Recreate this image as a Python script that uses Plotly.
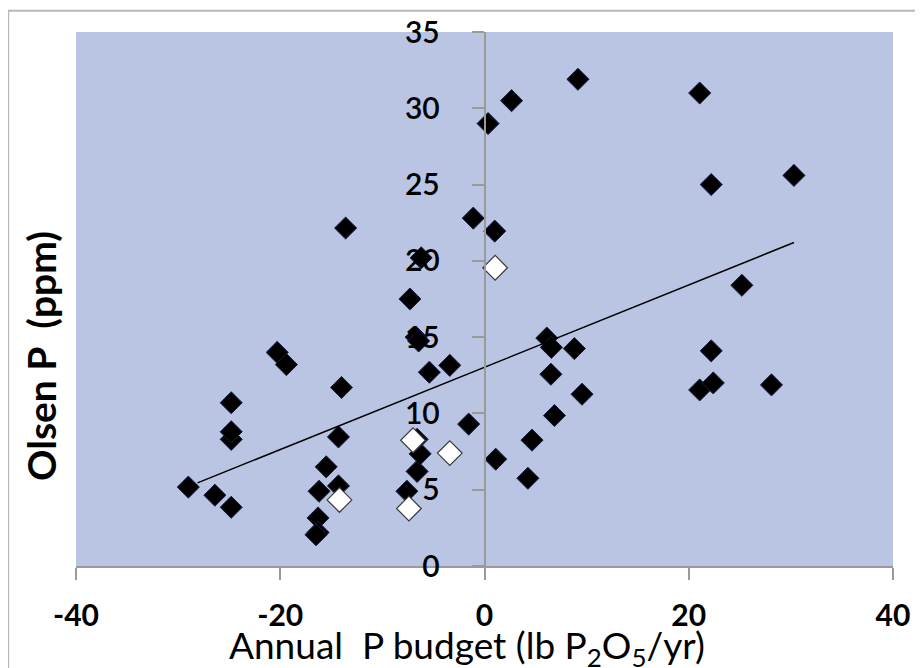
import plotly.graph_objects as go

# Filled (black) points: annual P budget vs Olsen P
black_x = [-29.0, -26.4, -24.8, -24.8, -24.8, -24.8, -20.3, -19.4, -13.6, -14.0,
           -14.3, -15.5, -14.3, -16.2, -16.3, -16.3, -16.5, -7.3, -6.2, -6.7,
           -6.45, -5.4, -3.4, -7.6, -6.6, -6.3, -6.6, -1.55, -1.1, 1.0,
           0.35, 2.65, 9.15, 1.1, 4.65, 4.25, 6.85, 6.5, 6.1, 6.55,
           8.8, 9.55, 21.07, 22.4, 22.2, 25.2, 28.1, 22.2, 21.07, 30.3]
black_y = [5.17, 4.64, 3.85, 8.3, 8.8, 10.7, 14.0, 13.2, 22.15, 11.7,
           8.46, 6.5, 5.25, 4.9, 3.15, 2.2, 2.05, 17.5, 20.2, 15.0,
           14.75, 12.7, 13.15, 4.9, 6.2, 7.35, 8.3, 9.3, 22.8, 21.95,
           29.0, 30.5, 31.9, 7.0, 8.25, 5.75, 9.86, 12.57, 14.94, 14.33,
           14.25, 11.26, 11.54, 12.0, 14.1, 18.4, 11.87, 25.0, 31.0, 25.6]

# Open (white) points
white_x = [1.04, -7.0, -3.4, -14.2, -7.4]
white_y = [19.55, 8.24, 7.4, 4.33, 3.77]

# Linear trendline end points
trend_x = [-28.1, 30.3]
trend_y = [5.45, 21.2]

x_ticks = [-40, -20, 0, 20, 40]
y_ticks = [0, 5, 10, 15, 20, 25, 30, 35]

FONT = "Lato"

fig = go.Figure()
fig.add_trace(go.Scatter(
    x=black_x, y=black_y, mode="markers",
    marker=dict(symbol="diamond", size=17, color="black",
                line=dict(color="#1a1f4a", width=1)),
    showlegend=False))
fig.add_trace(go.Scatter(
    x=trend_x, y=trend_y, mode="lines",
    line=dict(color="black", width=1.5), showlegend=False))
fig.add_trace(go.Scatter(
    x=white_x, y=white_y, mode="markers",
    marker=dict(symbol="diamond", size=19, color="white",
                line=dict(color="#3a3a3a", width=1.2)),
    showlegend=False))

fig.update_layout(
    width=923, height=668,
    margin=dict(l=68, r=38, t=24, b=110, autoexpand=False),
    paper_bgcolor="white",
    plot_bgcolor="#BAC4E3",
    font=dict(family=FONT, color="black"),
    xaxis=dict(
        range=[-40, 40], tickvals=x_ticks, ticktext=[str(v) for v in x_ticks],
        automargin=False,
        showgrid=False, zeroline=False, showline=True, linecolor="#9a9a9a",
        linewidth=1.5, ticks="outside", ticklen=12, tickcolor="#9a9a9a",
        tickwidth=1.5, ticklabelstandoff=10,
        tickfont=dict(family=FONT, size=30, color="black", weight="bold"),
        title=dict(text=""),
    ),
    yaxis=dict(
        range=[0, 35], tickvals=y_ticks, ticktext=[str(v) for v in y_ticks],
        anchor="free", position=0.5, automargin=False,
        showgrid=False, zeroline=False, showline=True, linecolor="#9a9a9a",
        linewidth=1.5, ticks="outside", ticklen=12, tickcolor="#9a9a9a",
        tickwidth=1.5, ticklabelstandoff=26,
        tickfont=dict(family=FONT, size=30, color="black", weight=600),
        title=dict(text=""),
    ),
    shapes=[dict(type="rect", xref="paper", yref="paper",
                 x0=-0.083, x1=1.2, y0=-0.5, y1=1.04,
                 line=dict(color="#b8b8b8", width=2), layer="below")],
    annotations=[
        dict(text="<b>Olsen P  (ppm)</b>", xref="paper", yref="paper",
             x=-0.043, y=0.393, xanchor="center", yanchor="middle",
             textangle=-90, showarrow=False,
             font=dict(family=FONT, size=39, color="black")),
        dict(text="Annual  P budget (lb P<sub>2</sub>O<sub>5</sub>/yr)",
             xref="paper", yref="paper", x=0.479, y=-0.152,
             xanchor="center", yanchor="middle", showarrow=False,
             font=dict(family=FONT, size=37, color="black")),
    ],
)

fig.write_html("out.html")
